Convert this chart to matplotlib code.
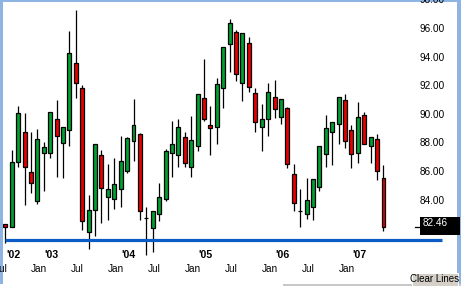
import matplotlib
matplotlib.use("Agg")
import matplotlib.pyplot as plt
from matplotlib.patches import Rectangle
from matplotlib.transforms import blended_transform_factory, offset_copy

# Monthly OHLC candles, Jul 2002 .. Jun 2007
opens = [82.69, 82.50, 87.04, 89.14, 86.30, 84.32, 87.67, 87.67, 90.03, 88.37,
         89.26, 93.92, 92.17, 82.11, 83.65, 87.51, 84.56, 84.42, 85.12, 86.42,
         88.47, 88.98, 83.09, 82.39, 83.37, 84.44, 87.67, 87.49, 88.75, 86.69,
         88.16, 91.47, 89.59, 89.49, 92.17, 95.25, 96.09, 92.52, 95.32, 91.82,
         89.45, 90.01, 91.59, 90.15, 90.78, 86.16, 83.62, 83.37, 83.90, 85.30,
         87.60, 89.10, 89.66, 91.36, 89.24, 87.63, 90.29, 88.14, 88.61, 85.88]
highs = [82.69, 87.86, 90.94, 90.47, 89.10, 89.33, 88.44, 90.50, 91.36, 89.45,
         96.18, 97.65, 92.40, 84.72, 88.26, 87.86, 86.88, 87.30, 88.84, 88.79,
         91.43, 89.07, 83.86, 83.62, 85.58, 87.93, 89.91, 90.03, 89.14, 90.24,
         91.75, 94.22, 90.94, 92.87, 95.04, 97.02, 96.25, 96.02, 95.74, 92.19,
         91.08, 92.52, 92.75, 91.41, 90.85, 86.88, 85.12, 85.88, 85.81, 88.14,
         90.31, 89.80, 91.59, 91.75, 89.61, 91.24, 90.50, 88.77, 88.96, 86.81]
lows = [81.34, 82.50, 86.69, 84.02, 84.88, 84.09, 85.00, 87.32, 86.00, 85.93,
        88.16, 91.52, 82.27, 80.92, 81.87, 82.74, 82.97, 83.72, 83.90, 86.23,
        87.11, 82.97, 80.52, 80.76, 82.92, 84.32, 86.00, 86.69, 86.65, 86.00,
        87.81, 89.91, 87.51, 88.28, 90.82, 93.33, 92.68, 91.31, 91.89, 89.14,
        87.81, 88.86, 90.08, 89.68, 86.58, 83.62, 82.50, 83.04, 82.97, 85.02,
        86.69, 86.83, 88.28, 88.02, 86.58, 86.97, 88.26, 86.97, 85.77, 82.18]
closes = [82.50, 87.04, 90.45, 86.69, 85.53, 88.61, 88.07, 90.50, 88.86, 89.45,
          94.62, 92.52, 82.92, 83.65, 88.26, 85.19, 85.12, 85.49, 87.07, 88.70,
          89.59, 83.62, 83.09, 83.62, 84.56, 87.77, 88.26, 89.45, 86.93, 88.54,
          91.75, 90.01, 89.38, 92.45, 95.04, 96.72, 93.17, 96.02, 92.24, 89.80,
          90.03, 91.89, 90.71, 91.41, 86.88, 84.14, 83.62, 84.35, 85.81, 88.14,
          89.40, 89.80, 91.54, 88.47, 87.56, 90.15, 88.26, 88.77, 86.37, 82.46]

month_idx = [0, 6, 12, 18, 24, 30, 36, 42, 48, 54]
month_labels = ["Jul", "Jan", "Jul", "Jan", "Jul", "Jan", "Jul", "Jan", "Jul", "Jan"]
year_idx = [0, 6, 18, 30, 42, 54]
year_labels = ["'02", "'03", "'04", "'05", "'06", "'07"]
price_ticks = [84, 86, 88, 90, 92, 94, 96, 98]
line_level = 81.59          # user drawn horizontal line
line_end = 68.1

GREEN = "#00a032"
RED = "#e60000"
FONT = "Liberation Sans"

W, H = 461, 286
fig = plt.figure(figsize=(W / 100, H / 100), dpi=100, facecolor="#8db4e2")

# axes occupies the white chart area (pixels 3..457 x 2..284)
ax_l, ax_r, ax_t, ax_b = 3, 457, 2, 284
ax = fig.add_axes([ax_l / W, (H - ax_b) / H, (ax_r - ax_l) / W, (ax_b - ax_t) / H])
ax.set_facecolor("white")
for s in ax.spines.values():
    s.set_visible(False)
ax.set_xticks([])
ax.set_yticks([])

# scale: first candle at x=5.3px, 6.41px per month, 14.31px per dollar
px_c, x0 = 6.41, 5.3
px_u = 14.31
y_last = 227.3
ax.set_xlim((ax_l - x0) / px_c, (ax_r - x0) / px_c)
ax.set_ylim(closes[-1] - (ax_b - y_last) / px_u, closes[-1] + (y_last - ax_t) / px_u)

idx = list(range(len(closes)))
ax.vlines(idx, lows, highs, color="black", linewidth=0.9, zorder=2)
for i in idx:
    o, c = opens[i], closes[i]
    col = GREEN if c >= o else RED
    ax.bar(i, c - o if c != o else 0.0001, bottom=o, width=0.62,
           color=col, edgecolor="black", linewidth=0.9, zorder=3)

ax.plot([-0.05, line_end], [line_level, line_level], color="#0a5cc4",
        linewidth=2.3, solid_capstyle="butt", zorder=4)

# x labels
bx = blended_transform_factory(ax.transData, ax.transAxes)
for i, lab in zip(month_idx, month_labels):
    ax.text(i - 0.7, (ax_b - 269.5) / (ax_b - ax_t), lab, transform=bx,
            ha="center", va="center", fontsize=7.2, family=FONT)
for i, lab in zip(year_idx, year_labels):
    ax.text(i + 1.2, (ax_b - 255.5) / (ax_b - ax_t), lab, transform=bx,
            ha="center", va="center", fontsize=7.6, family=FONT, fontweight="bold")

# y labels on the right
by = blended_transform_factory(ax.transAxes, ax.transData)
lab_x = (419.5 - ax_l) / (ax_r - ax_l)
by_up = offset_copy(by, fig=fig, y=3.3, units="points")
for p in price_ticks:
    ax.text(lab_x, p, f"{p:.2f}", transform=by_up, ha="left", va="center",
            fontsize=7.2, family=FONT)

# last price marker and box
last = closes[-1]
ax.plot([(415 - ax_l) / (ax_r - ax_l), (419 - ax_l) / (ax_r - ax_l)], [last, last],
        transform=by, color="black", linewidth=0.9)
ax.add_patch(Rectangle(((420 - ax_l) / (ax_r - ax_l), last - 7.4 / px_u),
                       (460 - 420) / (ax_r - ax_l), 17.4 / px_u,
                       transform=by, facecolor="black", edgecolor="none", zorder=5,
                       clip_on=False))
ax.text(lab_x + 0.006, last, f"{last:.2f}", transform=by_up, ha="left", va="center",
        fontsize=7.2, family=FONT, color="white", zorder=6)

# bottom strip and "Clear Lines" button
fig.patches.append(Rectangle((0, 0), 283 / W, 2 / H, transform=fig.transFigure,
                             facecolor="white", edgecolor="none"))
fig.patches.append(Rectangle((283 / W, 0), (W - 283) / W, 2 / H, transform=fig.transFigure,
                             facecolor="#c8c8c8", edgecolor="none"))
fig.patches.append(Rectangle((412 / W, 0), 46 / W, 13 / H, transform=fig.transFigure,
                             facecolor="#d4d0c8", edgecolor="white", linewidth=0.7,
                             zorder=10))
fig.text(435 / W, 7 / H, "Clear Lines", ha="center", va="center", fontsize=7,
         family=FONT, zorder=11)

fig.savefig("out.png", dpi=100, facecolor=fig.get_facecolor())
